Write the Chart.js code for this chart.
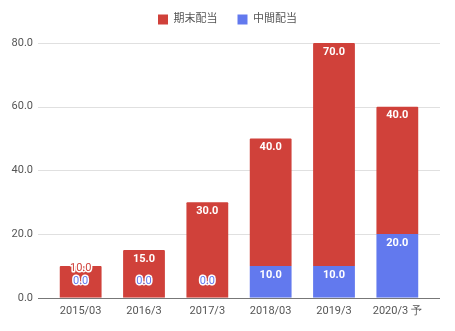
<!DOCTYPE html>
<html>
<head>
<meta charset="utf-8">
<script src="https://cdn.jsdelivr.net/npm/chart.js@4/dist/chart.umd.min.js"></script>
<style>
  html, body { margin: 0; padding: 0; background: #fff; }
  #wrap { width: 455px; height: 331px; position: relative; }
</style>
</head>
<body>
<div id="wrap"><canvas id="barchart"></canvas></div>
<script>
var labels = ["2015/03", "2016/3", "2017/3", "2018/03", "2019/3", "2020/3 予"];
var interim = [0, 0, 0, 10, 10, 20];     // 中間配当
var yearEnd = [10, 15, 30, 40, 70, 40];  // 期末配当
var yTicks = [0, 20, 40, 60, 80];

var RED = "#d0413a",
    BLUE = "#6279ee";

// a bit more room under the legend
var legendGap = {
  id: "legendGap",
  beforeInit: function(chart) {
    var fit = chart.legend.fit;
    chart.legend.fit = function() {
      fit.call(this);
      this.height += 8;
    };
  }
};

// grid lines run a little past both ends of the bar area
var gridLines = {
  id: "gridLines",
  beforeDatasetsDraw: function(chart) {
    var ctx = chart.ctx,
        y = chart.scales.y;
    ctx.save();
    yTicks.forEach(function(t) {
      var py = Math.round(y.getPixelForValue(t)) + 0.5;
      ctx.strokeStyle = t === 0 ? "#777" : "#e0e0e0";
      ctx.lineWidth = 1;
      ctx.beginPath();
      ctx.moveTo(38, py);
      ctx.lineTo(440, py);
      ctx.stroke();
    });
    ctx.restore();
  }
};

// value labels on each bar; small bars get an outlined label instead
var barLabels = {
  id: "barLabels",
  afterDatasetsDraw: function(chart) {
    var ctx = chart.ctx;
    ctx.save();
    ctx.textAlign = "center";
    ctx.textBaseline = "middle";
    chart.data.datasets.forEach(function(ds, di) {
      var meta = chart.getDatasetMeta(di);
      meta.data.forEach(function(bar, i) {
        var v = ds.data[i],
            txt = v.toFixed(1),
            h = bar.base - bar.y,
            zeroY = bar.base - 17,
            below = di > 0 ? chart.data.datasets[di - 1].data[i] : 1;
        var inside = h >= 20 && !(below === 0 && Math.abs(bar.y + 9 - zeroY) < 14);
        if (inside) {
          ctx.font = "bold 11px Roboto";
          ctx.fillStyle = "#fff";
          ctx.fillText(txt, bar.x, bar.y + 9);
        } else {
          var ty = h > 0 ? bar.y + 2 : zeroY;
          ctx.font = "11px Roboto";
          ctx.lineWidth = 3;
          ctx.lineJoin = "round";
          ctx.strokeStyle = "#fff";
          ctx.strokeText(txt, bar.x, ty);
          ctx.fillStyle = ds.backgroundColor;
          ctx.fillText(txt, bar.x, ty);
        }
      });
    });
    ctx.restore();
  }
};

var ctx = document.getElementById("barchart").getContext("2d");
var myBarChart = new Chart(ctx, {
  type: "bar",
  data: {
    labels: labels,
    datasets: [
      {
        label: "中間配当",
        backgroundColor: BLUE,
        data: interim
      },
      {
        label: "期末配当",
        backgroundColor: RED,
        data: yearEnd
      }
    ]
  },
  options: {
    responsive: true,
    maintainAspectRatio: false,
    animation: false,
    layout: {
      padding: { left: 0, right: 0, top: -6, bottom: 6 }
    },
    datasets: {
      bar: { categoryPercentage: 1, barPercentage: 0.66, borderRadius: 1 }
    },
    scales: {
      x: {
        stacked: true,
        grid: { display: false, drawTicks: false },
        border: { display: false },
        ticks: { color: "#555", font: { family: "Roboto", size: 11 }, padding: 7 }
      },
      y: {
        stacked: true,
        min: 0,
        max: 80,
        afterBuildTicks: function(scale) {
          scale.ticks = yTicks.map(function(v) { return { value: v }; });
        },
        afterFit: function(scale) { scale.width = 49; },
        grid: { display: false, drawTicks: false },
        border: { display: false },
        ticks: {
          color: "#555",
          font: { family: "Roboto", size: 11 },
          padding: 16,
          callback: function(v) { return v.toFixed(1); }
        }
      },
      // empty right margin so the legend stays centred on the page
      yRight: {
        position: "right",
        grid: { display: false, drawTicks: false },
        border: { display: false },
        ticks: { display: false },
        afterFit: function(scale) { scale.width = 26; }
      }
    },
    plugins: {
      legend: {
        reverse: true,
        labels: {
          color: "#555",
          font: { family: "Roboto, 'Noto Sans CJK JP'", size: 11 },
          boxWidth: 10,
          boxHeight: 10,
          padding: 20
        }
      },
      tooltip: { enabled: false }
    }
  },
  plugins: [legendGap, gridLines, barLabels]
});
</script>
</body>
</html>
